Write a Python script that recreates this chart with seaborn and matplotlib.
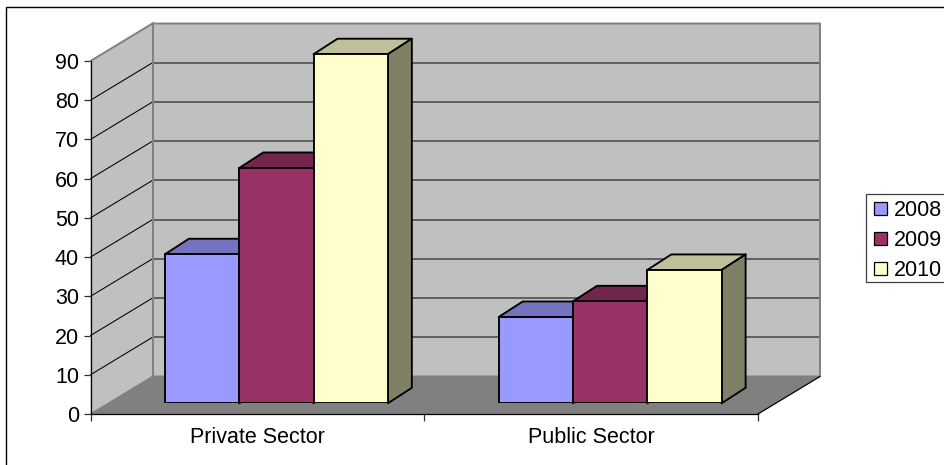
import matplotlib
matplotlib.use("Agg")
import matplotlib.pyplot as plt
from matplotlib.colors import to_rgb
from matplotlib.patches import Patch, Rectangle
import pandas as pd
import seaborn as sns

# Chart values
categories = ["Private Sector", "Public Sector"]
years = ["2008", "2009", "2010"]
values_2008 = [38, 22]
values_2009 = [60, 26]
values_2010 = [89, 34]
y_ticks = list(range(0, 100, 10))

# Colours of the series and the chart furniture
series_colors = ["#9999FF", "#993366", "#FFFFCC"]
wall_color = "#C0C0C0"
floor_color = "#808080"
edge_grey = "#808080"
grid_back = "#454545"

W, H = 944, 465
FONT = 15.5

sns.set_style("white")
plt.rcParams["font.family"] = ["Liberation Sans", "DejaVu Sans"]
plt.rcParams["text.color"] = "black"
plt.rcParams["xtick.labelcolor"] = "black"
plt.rcParams["ytick.labelcolor"] = "black"

fig = plt.figure(figsize=(W / 100, H / 100), dpi=100, facecolor="white")


def axes_box(left, right, top, bottom):
    """Axes rectangle from pixel edges measured from the top-left corner."""
    return [left / W, 1 - bottom / H, (right - left) / W, (bottom - top) / H]


# The front plane of the box carries the value axis and the category labels
wall_ax = fig.add_axes(axes_box(90.5, 758, 61, 414), zorder=1)
# The bars stand a little way inside the box, on a plane of the same scale
bar_ax = fig.add_axes(axes_box(109.5, 777, 50.3, 403.3), zorder=2)
bar_ax.patch.set_visible(False)

for ax in (wall_ax, bar_ax):
    ax.set_xlim(-0.5, 1.5)
    ax.set_ylim(0, 90)

unit_x = 667.5 / 2  # pixels per category
unit_y = 353 / 90  # pixels per value unit
wall_dx, wall_dy = 62 / unit_x, 37.5 / unit_y
bar_dx, bar_dy = 24 / unit_x, 15.5 / unit_y

# Box: floor, left wall and back wall
x0, x1 = -0.5, 1.5
y_top = y_ticks[-1]
wall_ax.fill([x0, x1, x1 + wall_dx, x0 + wall_dx], [0, 0, wall_dy, wall_dy],
             color=floor_color, lw=0, clip_on=False, zorder=1)
wall_ax.fill([x0, x0 + wall_dx, x0 + wall_dx, x0],
             [0, wall_dy, y_top + wall_dy, y_top],
             color=wall_color, lw=0, clip_on=False, zorder=1)
wall_ax.fill([x0 + wall_dx, x1 + wall_dx, x1 + wall_dx, x0 + wall_dx],
             [wall_dy, wall_dy, y_top + wall_dy, y_top + wall_dy],
             color=wall_color, lw=0, clip_on=False, zorder=1)

# Gridlines run along the left wall and across the back wall
for tick in y_ticks[1:-1]:
    wall_ax.plot([x0, x0 + wall_dx], [tick, tick + wall_dy], color="black",
                 lw=0.75, clip_on=False, zorder=2)
    wall_ax.plot([x0 + wall_dx, x1 + wall_dx], [tick + wall_dy] * 2,
                 color=grid_back, lw=1.1, clip_on=False, zorder=2)

# Grey outline of the walls
wall_ax.plot([x0, x0 + wall_dx, x1 + wall_dx, x1 + wall_dx, x0 + wall_dx],
             [y_top, y_top + wall_dy, y_top + wall_dy, wall_dy, wall_dy],
             color=edge_grey, lw=1.4, clip_on=False, zorder=3)
wall_ax.plot([x0 + wall_dx, x0 + wall_dx], [wall_dy, y_top + wall_dy],
             color=edge_grey, lw=1.4, clip_on=False, zorder=3)
wall_ax.plot([x0, x0 + wall_dx], [0, wall_dy], color=edge_grey, lw=1.0,
             clip_on=False, zorder=3)
wall_ax.plot([x1, x1 + wall_dx], [0, wall_dy], color="black", lw=0.9,
             clip_on=False, zorder=3)

# Value axis and category axis on the front plane
wall_ax.patch.set_visible(False)
for side in ("top", "right"):
    wall_ax.spines[side].set_visible(False)
for side in ("left", "bottom"):
    wall_ax.spines[side].set_color("black")
    wall_ax.spines[side].set_linewidth(0.9)
    wall_ax.spines[side].set_zorder(4)
wall_ax.set_yticks(y_ticks)
wall_ax.set_xticks([x0, 0.5, x1])
wall_ax.set_xticklabels([])
wall_ax.set_xticks([0, 1], labels=categories, minor=True)
wall_ax.tick_params(axis="y", which="major", left=True, length=5, width=0.9,
                    color="#303030", labelsize=FONT, pad=3.2)
wall_ax.tick_params(axis="x", which="major", bottom=True, length=5, width=0.9,
                    color="#303030")
wall_ax.tick_params(axis="x", which="minor", bottom=False, labelsize=FONT, pad=7)

# Front faces of the bars
frame = pd.DataFrame({
    "sector": categories * len(years),
    "year": [y for y in years for _ in categories],
    "value": values_2008 + values_2009 + values_2010,
})
sns.barplot(data=frame, x="sector", y="value", hue="year", hue_order=years,
            order=categories, palette=series_colors, width=0.668, gap=0,
            saturation=1, edgecolor="black", linewidth=1.35, zorder=5,
            legend=False, ax=bar_ax)
bar_ax.set_xlim(-0.5, 1.5)
bar_ax.set_ylim(0, 90)
bar_ax.axis("off")


def shade(color, factor):
    return tuple(c * factor for c in to_rgb(color))


# Top and side faces follow each front face
for color, container in zip(series_colors, bar_ax.containers):
    for bar in container:
        left, right = bar.get_x(), bar.get_x() + bar.get_width()
        height = bar.get_height()
        bar_ax.fill([left, right, right + bar_dx, left + bar_dx],
                    [height, height, height + bar_dy, height + bar_dy],
                    facecolor=shade(color, 0.75), edgecolor="black", lw=1.35,
                    clip_on=False, zorder=3, joinstyle="round")
        bar_ax.fill([right, right + bar_dx, right + bar_dx, right],
                    [0, bar_dy, height + bar_dy, height],
                    facecolor=shade(color, 0.5), edgecolor="black", lw=1.35,
                    clip_on=False, zorder=3, joinstyle="round")

# Legend box runs off the right-hand edge of the chart area
fig.add_artist(Rectangle((866 / W, 1 - 282 / H), 0.2, 88.5 / H,
                         transform=fig.transFigure, facecolor="white",
                         edgecolor="#404040", lw=0.9))
handles = [Patch(facecolor=c, edgecolor="black", lw=0.9, label=y)
           for c, y in zip(series_colors, years)]
fig.legend(handles=handles, loc="upper left",
           bbox_to_anchor=(874 / W, 1 - 200 / H), borderaxespad=0,
           fontsize=FONT, frameon=False, handlelength=0.6, handleheight=0.6,
           handletextpad=0.33, labelspacing=0.42, borderpad=0)

# Outer frame of the chart area, cut off by the right and lower edges
fig.add_artist(Rectangle((6 / W, -0.1), 1.1, 1 - 7 / H + 0.1,
                         transform=fig.transFigure, facecolor="none",
                         edgecolor="black", lw=1.0, zorder=0))

fig.savefig("out.png", dpi=100, facecolor="white")
